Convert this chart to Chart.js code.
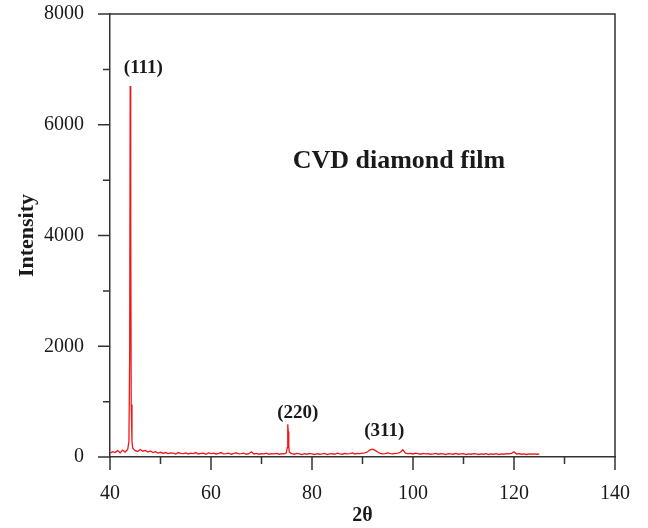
<!DOCTYPE html>
<html>
<head>
<meta charset="utf-8">
<script src="https://cdn.jsdelivr.net/npm/chart.js@4/dist/chart.umd.min.js"></script>
<style>
  body { margin: 0; background: #fff; }
  #wrap { width: 648px; height: 528px; }
</style>
</head>
<body>
<div id="wrap"><canvas id="xrd" width="648" height="528"></canvas></div>
<script>
// XRD pattern (2θ in degrees, intensity in counts)
const twoTheta = [
  40.0, 40.5, 41.0, 41.5, 42.0, 42.5, 43.0, 43.5, 43.75, 43.9,
  44.0, 44.1, 44.2, 44.35, 44.5, 45.0, 45.5, 46.0, 46.5, 47.0,
  47.5, 48.0, 48.5, 49.0, 49.5, 50.0, 50.5, 51.0, 51.5, 52.0,
  52.5, 53.0, 53.5, 54.0, 54.5, 55.0, 55.5, 56.0, 56.5, 57.0,
  57.5, 58.0, 58.5, 59.0, 59.5, 60.0, 60.5, 61.0, 61.5, 62.0,
  62.5, 63.0, 63.5, 64.0, 64.5, 65.0, 65.5, 66.0, 66.5, 67.0,
  67.5, 68.0, 68.5, 69.0, 69.5, 70.0, 70.5, 71.0, 71.5, 72.0,
  72.5, 73.0, 73.5, 74.0, 74.5, 74.9, 75.1, 75.2, 75.3, 75.4,
  75.5, 75.75, 76.0, 76.5, 77.0, 77.5, 78.0, 78.5, 79.0, 79.5,
  80.0, 80.5, 81.0, 81.5, 82.0, 82.5, 83.0, 83.5, 84.0, 84.5,
  85.0, 85.5, 86.0, 86.5, 87.0, 87.5, 88.0, 88.5, 89.0, 89.5,
  90.0, 90.5, 91.0, 91.5, 92.0, 92.5, 93.0, 93.5, 94.0, 94.5,
  95.0, 95.5, 96.0, 96.5, 97.0, 97.5, 98.0, 98.5, 99.0, 99.5,
  100.0, 100.5, 101.0, 101.5, 102.0, 102.5, 103.0, 103.5, 104.0, 104.5,
  105.0, 105.5, 106.0, 106.5, 107.0, 107.5, 108.0, 108.5, 109.0, 109.5,
  110.0, 110.5, 111.0, 111.5, 112.0, 112.5, 113.0, 113.5, 114.0, 114.5,
  115.0, 115.5, 116.0, 116.5, 117.0, 117.5, 118.0, 118.5, 119.0, 119.5,
  120.0, 120.5, 121.0, 121.5, 122.0, 122.5, 123.0, 123.5, 124.0, 124.5,
  125.0
];
const intensity = [
  70, 95, 80, 115, 75, 125, 90, 135, 280, 1900,
  6700, 4300, 950, 280, 160, 115, 100, 135, 105, 120,
  90, 110, 80, 95, 70, 85, 65, 80, 60, 75,
  70, 55, 80, 65, 60, 75, 55, 70, 60, 80,
  55, 65, 70, 50, 75, 60, 70, 55, 65, 80,
  55, 60, 70, 50, 65, 75, 55, 60, 70, 50,
  60, 95, 55, 65, 50, 60, 55, 70, 50, 60,
  55, 65, 50, 60, 55, 70, 170, 590, 460, 200,
  90, 70, 60, 50, 65, 55, 45, 60, 50, 65,
  55, 45, 60, 50, 55, 65, 45, 55, 60, 50,
  70, 55, 50, 65, 55, 60, 75, 55, 65, 60,
  70, 75, 95, 130, 140, 120, 90, 65, 55, 60,
  75, 60, 55, 65, 70, 85, 130, 70, 60, 65,
  55, 70, 60, 50, 65, 55, 60, 50, 55, 65,
  50, 60, 55, 45, 60, 55, 50, 65, 50, 55,
  60, 45, 55, 50, 60, 55, 45, 55, 50, 60,
  45, 55, 50, 60, 45, 55, 50, 60, 55, 65,
  95, 55, 60, 50, 55, 45, 55, 50, 55, 50,
  55
];

// axis ranges and ticks
const xMin = 40, xMax = 140, xMajorStep = 20, xMinorStep = 10;
const yMin = 0, yMax = 8000, yMajorStep = 2000, yMinorStep = 1000;

// text annotations (placed in data coordinates)
const noteTexts = ["(111)", "(220)", "(311)", "CVD diamond film"];
const noteX = [46.6, 77.2, 94.3, 97.2];
const noteY = [7020, 800, 460, 5340];
const noteSizes = [19, 19, 19, 26];

const points = twoTheta.map((t, i) => ({ x: t, y: intensity[i] }));
const serif = "'Liberation Serif', 'Times New Roman', serif";
const axisColor = "#333";

const framePlugin = {
  id: "frame",
  afterDraw(chart) {
    const { ctx, chartArea: a, scales } = chart;
    const xs = scales.x, ys = scales.y;
    ctx.save();
    ctx.strokeStyle = axisColor;
    ctx.lineWidth = 1.5;
    ctx.beginPath();
    // top and right frame lines
    ctx.moveTo(a.left, a.top);
    ctx.lineTo(a.right, a.top);
    ctx.lineTo(a.right, a.bottom);
    // outward x ticks
    for (let v = xMin; v <= xMax; v += xMinorStep) {
      const px = xs.getPixelForValue(v);
      const len = (v - xMin) % xMajorStep === 0 ? 13 : 7;
      ctx.moveTo(px, a.bottom);
      ctx.lineTo(px, a.bottom + len);
    }
    // outward y ticks
    for (let v = yMin; v <= yMax; v += yMinorStep) {
      const py = ys.getPixelForValue(v);
      const len = (v - yMin) % yMajorStep === 0 ? 12 : 7;
      ctx.moveTo(a.left, py);
      ctx.lineTo(a.left - len, py);
    }
    ctx.stroke();

    ctx.fillStyle = "#1a1a1a";
    ctx.textAlign = "center";
    ctx.textBaseline = "middle";
    noteTexts.forEach((txt, i) => {
      ctx.font = "bold " + noteSizes[i] + "px " + serif;
      ctx.fillText(txt, xs.getPixelForValue(noteX[i]), ys.getPixelForValue(noteY[i]));
    });
    ctx.restore();
  }
};

new Chart(document.getElementById("xrd"), {
  type: "scatter",
  data: {
    datasets: [
      {
        data: points,
        showLine: true,
        borderColor: "rgb(238, 24, 24)",
        borderWidth: 1.3,
        pointRadius: 0,
        tension: 0,
      },
    ],
  },
  options: {
    responsive: false,
    animation: false,
    layout: { padding: { top: 14, right: 33, left: 0, bottom: 0 } },
    plugins: {
      legend: { display: false },
      tooltip: { enabled: false },
    },
    scales: {
      x: {
        type: "linear",
        min: xMin,
        max: xMax,
        afterFit: (s) => {
          s.height = 71;
          s.paddingLeft = 0;
          s.paddingRight = 0;
        },
        ticks: {
          stepSize: xMajorStep,
          color: "#1a1a1a",
          padding: 17,
          maxRotation: 0,
          callback: (v) => String(v),
          font: { family: serif, size: 20 },
        },
        grid: { display: false },
        border: { display: true, color: axisColor, width: 1.5 },
        title: {
          display: true,
          text: "2θ",
          color: "#1a1a1a",
          padding: { top: 0, bottom: 0 },
          font: { family: serif, size: 20, weight: "bold" },
        },
      },
      y: {
        min: yMin,
        max: yMax,
        afterFit: (s) => {
          s.width = 110;
          s.paddingTop = 0;
          s.paddingBottom = 0;
        },
        ticks: {
          stepSize: yMajorStep,
          color: "#1a1a1a",
          padding: 18,
          callback: (v) => String(v),
          font: { family: serif, size: 20 },
        },
        grid: { display: false },
        border: { display: true, color: axisColor, width: 1.5 },
        title: {
          display: true,
          text: "Intensity",
          color: "#1a1a1a",
          padding: { top: 14, bottom: 0 },
          font: { family: serif, size: 22, weight: "bold" },
        },
      },
    },
  },
  plugins: [framePlugin],
});
</script>
</body>
</html>
